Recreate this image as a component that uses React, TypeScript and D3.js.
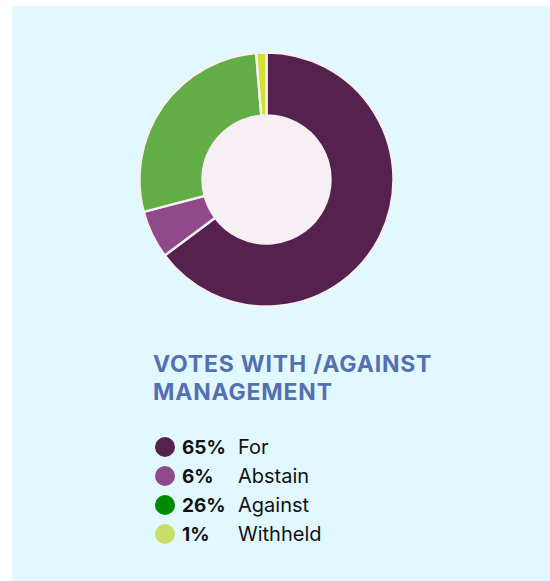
import { arc, pie, PieArcDatum } from 'd3';

const categories = ['For', 'Abstain', 'Against', 'Withheld'];
const shares = [64.8, 6.1, 27.8, 1.3];
const legendPct = ['65%', '6%', '26%', '1%'];
const sliceColors = ['#55224f', '#904a8c', '#62ad45', '#d3e02c'];
const legendColors = ['#55224f', '#8e4a8a', '#008a00', '#c9dd6b'];
const titleLines = ['VOTES WITH /AGAINST', 'MANAGEMENT'];

type Slice = { name: string; share: number; color: string };

const W = 550;
const H = 581;
const cx = 266.5;
const cy = 179.5;
const outerR = 127;
const innerR = 64;

export default function App() {
  const data: Slice[] = categories.map((name, i) => ({ name, share: shares[i], color: sliceColors[i] }));
  const arcs = pie<Slice>()
    .sort(null)
    .value((d) => d.share)(data);
  const path = arc<PieArcDatum<Slice>>().innerRadius(innerR).outerRadius(outerR);

  return (
    <svg width={W} height={H} style={{ position: 'absolute', left: 0, top: 0 }}>
      <rect x={12} y={6} width={W - 12} height={H - 6} fill="#e1f8ff" />
      <g transform={`translate(${cx}, ${cy})`}>
        <circle r={outerR + 1.2} fill="#f6eff4" />
        {arcs.map((a) => (
          <path key={a.data.name} d={path(a) ?? ''} fill={a.data.color} stroke="#f6eff4" strokeWidth={2.4} />
        ))}
        <circle r={innerR} fill="#f6eff4" />
      </g>
      <g fontFamily="Inter, sans-serif" fontWeight={700} fontSize={23} fill="#5570b0" letterSpacing={0.8}>
        {titleLines.map((t, i) => (
          <text key={t} x={153} y={371.5 + i * 28}>
            {t}
          </text>
        ))}
      </g>
      <g fontFamily="Inter, sans-serif" fontSize={19} fill="#111">
        {categories.map((c, i) => {
          const y = 447 + i * 29;
          return (
            <g key={c}>
              <circle cx={165} cy={y} r={10} fill={legendColors[i]} />
              <text x={182} y={y + 7} fontWeight={700}>
                {legendPct[i]}
              </text>
              <text x={238} y={y + 7} fontSize={20}>
                {c}
              </text>
            </g>
          );
        })}
      </g>
    </svg>
  );
}
